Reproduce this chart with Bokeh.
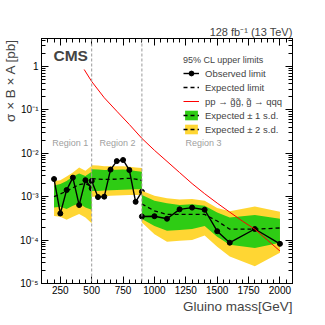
import math
from bokeh.plotting import figure
from bokeh.models import (Span, Label, Legend, LegendItem, FixedTicker, Title,
                          CustomJSTickFormatter, LinearAxis, LogAxis, Range1d)
from bokeh.embed import file_html
from bokeh.resources import INLINE

# ---------------- data ----------------
r1_mass = [200, 250, 300, 350, 400, 450, 500]
r1_obs = [2.55e-3, 4.1e-4, 1.42e-3, 2.75e-3, 6.4e-4, 2.4e-3, 1.56e-3]
r1_exp = [1.0e-3, 1.15e-3, 1.35e-3, 1.6e-3, 1.9e-3, 2.0e-3, 1.7e-3]
r1_g_lo = [5.6e-4, 5.85e-4, 5.2e-4, 6.2e-4, 7.0e-4, 5.6e-4, 5.0e-4]
r1_g_hi = [1.8e-3, 1.95e-3, 2.3e-3, 2.9e-3, 3.4e-3, 3.0e-3, 3.75e-3]
r1_y_lo = [3.6e-4, 3.45e-4, 2.95e-4, 3.45e-4, 4.0e-4, 3.3e-4, 2.45e-4]
r1_y_hi = [2.3e-3, 2.4e-3, 2.9e-3, 3.6e-3, 4.7e-3, 3.95e-3, 5.15e-3]

r2_mass = [500, 550, 600, 650, 700, 750, 800, 850, 900]
r2_obs = [2.3e-3, 9.8e-4, 1.0e-3, 4.2e-3, 6.6e-3, 7.0e-3, 4.1e-3, 7.6e-4, 1.3e-3]
r2_exp = [2.6e-3, 2.55e-3, 2.5e-3, 2.5e-3, 2.55e-3, 2.6e-3, 2.65e-3, 2.55e-3, 2.35e-3]
r2_g_lo = [1.35e-3, 1.35e-3, 1.38e-3, 1.4e-3, 1.42e-3, 1.45e-3, 1.47e-3, 1.48e-3, 1.48e-3]
r2_g_hi = [4.3e-3, 4.2e-3, 4.1e-3, 4.1e-3, 4.15e-3, 4.2e-3, 4.1e-3, 3.9e-3, 3.75e-3]
r2_y_lo = [1.0e-3, 1.0e-3, 1.02e-3, 1.05e-3, 1.07e-3, 1.08e-3, 1.1e-3, 1.1e-3, 1.1e-3]
r2_y_hi = [5.3e-3, 5.2e-3, 5.0e-3, 5.0e-3, 5.0e-3, 5.0e-3, 4.9e-3, 4.7e-3, 4.6e-3]

r3_mass = [900, 1000, 1100, 1200, 1300, 1400, 1500, 1600, 1800, 2000]
r3_obs = [3.5e-4, 3.55e-4, 3.1e-4, 5.1e-4, 5.6e-4, 5.0e-4, 1.6e-4, 8.7e-5, 1.8e-4, 8.2e-5]
r3_exp = [6.8e-4, 4.7e-4, 3.9e-4, 3.9e-4, 3.9e-4, 3.9e-4, 2.75e-4, 1.78e-4, 1.78e-4, 1.9e-4]
r3_g_lo = [3.05e-4, 2.1e-4, 1.64e-4, 1.7e-4, 1.8e-4, 2.1e-4, 1.19e-4, 7.8e-5, 6.6e-5, 8.7e-5]
r3_g_hi = [1.1e-3, 8.1e-4, 7.1e-4, 6.4e-4, 6.7e-4, 6.2e-4, 4.3e-4, 3.3e-4, 3.8e-4, 3.1e-4]
r3_y_lo = [2.55e-4, 1.37e-4, 9.1e-5, 9.7e-5, 1.0e-4, 1.27e-4, 7.0e-5, 4.2e-5, 2.5e-5, 5.1e-5]
r3_y_hi = [1.37e-3, 1.05e-3, 9.2e-4, 8.6e-4, 8.8e-4, 8.1e-4, 5.5e-4, 4.6e-4, 5.9e-4, 4.5e-4]

theory_mass = [440, 500, 600, 700, 800, 900, 1000, 1100, 1200, 1300, 1400,
               1500, 1600, 1700, 1800, 1900, 2000]
theory_xsec = [0.85, 0.45, 0.19, 0.093, 0.046, 0.022, 0.0117, 6.5e-3, 3.6e-3,
               2.0e-3, 1.17e-3, 7.1e-4, 4.4e-4, 2.75e-4, 1.78e-4, 1.0e-4, 5.6e-5]

region_bounds = [500, 900]
region_names = ["Region 1", "Region 2", "Region 3"]
region_label_x = [330, 705, 1390]
region_label_y = 0.0172

x_ticks = [250, 500, 750, 1000, 1250, 1500, 1750, 2000]
y_ticks = [1e-5, 1e-4, 1e-3, 1e-2, 1e-1, 1.0]

XMIN, XMAX = 100, 2100
YMIN, YMAX = 1e-5, 4.4

GREEN = "#2ecc14"
YELLOW = "#ffd633"
FONT = "Liberation Sans"

# ---------------- figure ----------------
p = figure(width=325, height=325, x_range=Range1d(XMIN, XMAX),
           y_range=Range1d(YMIN, YMAX), y_axis_type="log",
           output_backend="svg", toolbar_location=None,
           min_border_left=41, min_border_right=33,
           min_border_top=38, min_border_bottom=42)
p.outline_line_color = "black"
p.outline_line_width = 1
p.xgrid.visible = False
p.ygrid.visible = False
p.background_fill_color = "white"
p.border_fill_color = "white"

x_minor = list(range(XMIN, XMAX + 1, 50))
y_minor = [m * 10.0 ** e for e in range(-5, 1) for m in range(2, 10)]
xt = FixedTicker(ticks=x_ticks, minor_ticks=x_minor)
yt = FixedTicker(ticks=y_ticks, minor_ticks=y_minor)

yfmt_code = """
const e = Math.round(Math.log10(tick));
if (e === 0) { return "1"; }
const sup = {"-": "\u207b", "0": "\u2070", "1": "\u00b9", "2": "\u00b2", "3": "\u00b3",
             "4": "\u2074", "5": "\u2075", "6": "\u2076", "7": "\u2077", "8": "\u2078", "9": "\u2079"};
return "10" + String(e).split("").map(c => sup[c]).join("");
"""


def style_axis(ax, show_labels):
    ax.major_tick_in = 7
    ax.major_tick_out = 0
    ax.minor_tick_in = 4
    ax.minor_tick_out = 0
    ax.axis_line_color = "black"
    ax.major_tick_line_color = "black"
    ax.minor_tick_line_color = "black"
    ax.major_label_text_font = FONT
    ax.major_label_text_font_size = "10px" if show_labels else "0px"
    ax.major_label_text_color = "black"
    ax.major_label_standoff = 3


xa = p.xaxis[0]
xa.ticker = xt
style_axis(xa, True)
xa.major_label_standoff = 2
ya = p.yaxis[0]
ya.ticker = yt
ya.formatter = CustomJSTickFormatter(code=yfmt_code)
style_axis(ya, True)

top = LinearAxis(ticker=FixedTicker(ticks=x_ticks, minor_ticks=x_minor),
                 formatter=CustomJSTickFormatter(code="return '';"))
style_axis(top, False)
top.major_label_standoff = 0
p.add_layout(top, "above")
right = LogAxis(ticker=FixedTicker(ticks=y_ticks, minor_ticks=y_minor),
                formatter=CustomJSTickFormatter(code="return '';"))
style_axis(right, False)
right.major_label_standoff = 0
p.add_layout(right, "right")

lumi = Title(text="128 fb\u207b\u00b9 (13 TeV)", align="right",
             text_font=FONT, text_font_size="11px", text_font_style="normal",
             standoff=2)
p.add_layout(lumi, "above")

xtitle = Title(text="Gluino mass[GeV]", align="right", text_font=FONT,
               text_font_size="13.5px", text_font_style="normal", standoff=0)
p.add_layout(xtitle, "below")
ytitle = Title(text="\u03c3 \u00d7 B \u00d7 A [pb]", align="right", text_font=FONT,
               text_font_size="13.5px", text_font_style="normal", standoff=0)
p.add_layout(ytitle, "left")

# ---------------- glyphs ----------------
regions = [
    (r1_mass, r1_obs, r1_exp, r1_g_lo, r1_g_hi, r1_y_lo, r1_y_hi),
    (r2_mass, r2_obs, r2_exp, r2_g_lo, r2_g_hi, r2_y_lo, r2_y_hi),
    (r3_mass, r3_obs, r3_exp, r3_g_lo, r3_g_hi, r3_y_lo, r3_y_hi),
]
handles = []
for (m, obs, exp, glo, ghi, ylo, yhi) in regions:
    ry = p.varea(x=m, y1=ylo, y2=yhi, fill_color=YELLOW)
    rg = p.varea(x=m, y1=glo, y2=ghi, fill_color=GREEN)
    re = p.line(m, exp, line_color="black", line_dash="4 3", line_width=1.3)
    ro = p.line(m, obs, line_color="black", line_width=1.4)
    rc = p.scatter(m, obs, size=5, color="black")
    handles.append((ry, rg, re, ro, rc))

rth = p.line(theory_mass, theory_xsec, line_color="#ff0000", line_width=1)

for b in region_bounds:
    p.add_layout(Span(location=b, dimension="height", line_color="#999999",
                      line_dash="3 2", line_width=1))

for name, lx in zip(region_names, region_label_x):
    p.add_layout(Label(x=lx, y=region_label_y, text=name, text_align="center",
                       text_baseline="middle", text_color="#a0a0a0",
                       text_font=FONT, text_font_size="9px"))

# ---------------- legend ----------------
ry, rg, re, ro, rc = handles[0]
legend = Legend(items=[
    LegendItem(label="Observed limit", renderers=[ro, rc]),
    LegendItem(label="Expected limit", renderers=[re]),
    LegendItem(label="pp \u2192 g\u0303g\u0303, g\u0303 \u2192 qqq", renderers=[rth]),
    LegendItem(label="Expected \u00b1 1 s.d.", renderers=[rg, re]),
    LegendItem(label="Expected \u00b1 2 s.d.", renderers=[ry, re]),
], location=(138, 144), title="95% CL upper limits")
legend.label_text_font = FONT
legend.label_text_font_size = "9.5px"
legend.title_text_font = FONT
legend.title_text_font_size = "9px"
legend.title_text_font_style = "normal"
legend.title_standoff = 2
legend.glyph_width = 16
legend.glyph_height = 12
legend.label_height = 12
legend.label_standoff = 6
legend.spacing = 2
legend.padding = 4
legend.margin = 0
legend.border_line_alpha = 0
legend.background_fill_alpha = 0
p.add_layout(legend)

# ---------------- texts ----------------
p.add_layout(Label(x=XMIN, y=YMAX, x_offset=12, y_offset=-17, text="CMS",
                   text_font=FONT, text_font_style="bold", text_font_size="15.5px",
                   text_baseline="alphabetic", text_align="left"))

open("out.html", "w").write(file_html(p, INLINE))
